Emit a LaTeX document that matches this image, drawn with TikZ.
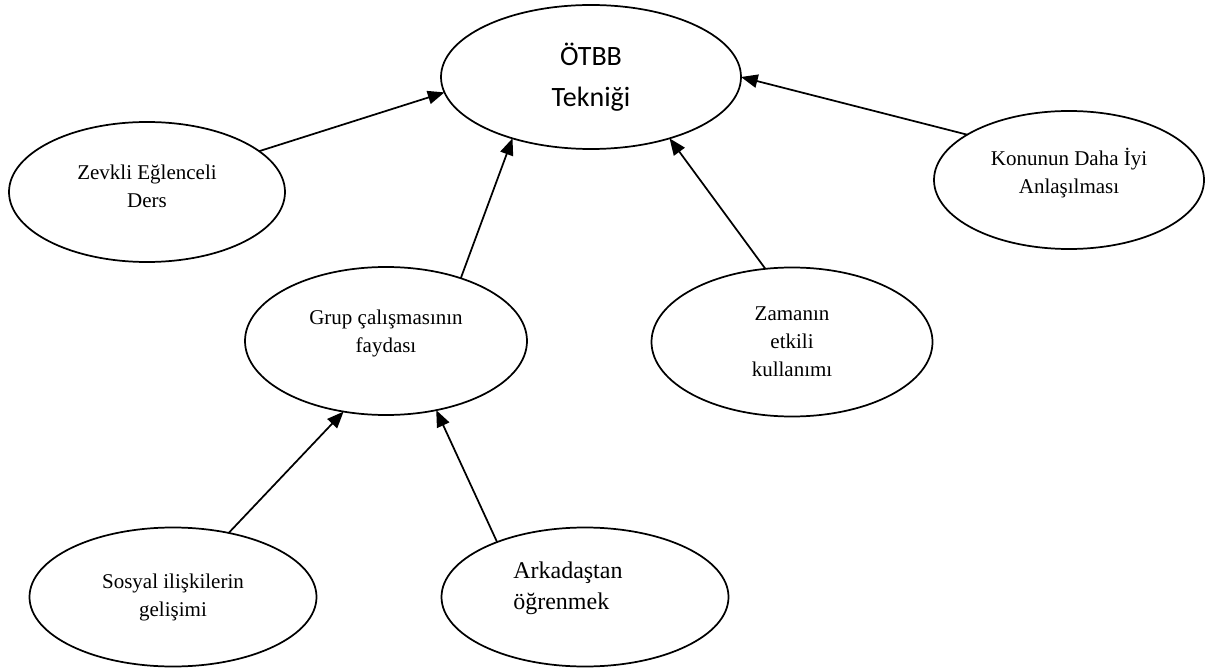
\documentclass[tikz,border=0pt]{standalone}
\usepackage{fontspec}
\setmainfont{Liberation Serif}
\newfontfamily\calibri{Carlito}
\usetikzlibrary{shapes.geometric,arrows.meta}
\tikzset{
  bubble/.style={draw, ellipse, line width=1.3pt, inner sep=0pt, outer sep=0pt, align=center, font=\fontsize{15.75}{21}\selectfont},
  link/.style={line width=1.3pt, -{Triangle[length=12.5pt,width=10pt]}}
}
\begin{document}
\begin{tikzpicture}[x=0.75pt,y=-0.75pt]
  \useasboundingbox (0,0) rectangle (1209,670);
  \node[bubble, minimum width=225pt, minimum height=108pt, font=\calibri\fontsize{21}{30.75}\selectfont] (otbb) at (591,77) {ÖTBB\\Tekniği};
  \node[bubble, minimum width=207pt, minimum height=105pt, text depth=9pt] (zevkli) at (147,192) {Zevkli Eğlenceli\\Ders};
  \node[bubble, minimum width=202.5pt, minimum height=103.5pt, text depth=13.5pt] (konu) at (1069,180) {Konunun Daha İyi\\Anlaşılması};
  \node[bubble, minimum width=211.5pt, minimum height=111pt, text depth=15pt] (grup) at (386,341) {Grup çalışmasının\\faydası};
  \node[bubble, minimum width=210.75pt, minimum height=111.75pt] (zaman) at (792,342) {Zamanın\\etkili\\kullanımı};
  \node[bubble, minimum width=215.25pt, minimum height=104.25pt] (sosyal) at (173,597) {Sosyal ilişkilerin\\gelişimi};
  \node[bubble, minimum width=215.25pt, minimum height=104.25pt] (arkadas) at (585,597) {};
  \node[align=left, anchor=west, inner sep=0pt, font=\fontsize{18}{23}\selectfont] (arkadasText) at (513,588) {Arkadaştan\\öğrenmek};
  \draw[link] (zevkli.20) -- (otbb.186);
  \draw[link] (konu.156) -- (otbb.0);
  \draw[link] (grup.40) -- (otbb.218);
  \draw[link] (zaman.110) -- (otbb.322);
  \draw[link] (sosyal.49) -- (grup.239);
  \draw[link] (arkadas.148) -- (grup.306);
\end{tikzpicture}
\end{document}
